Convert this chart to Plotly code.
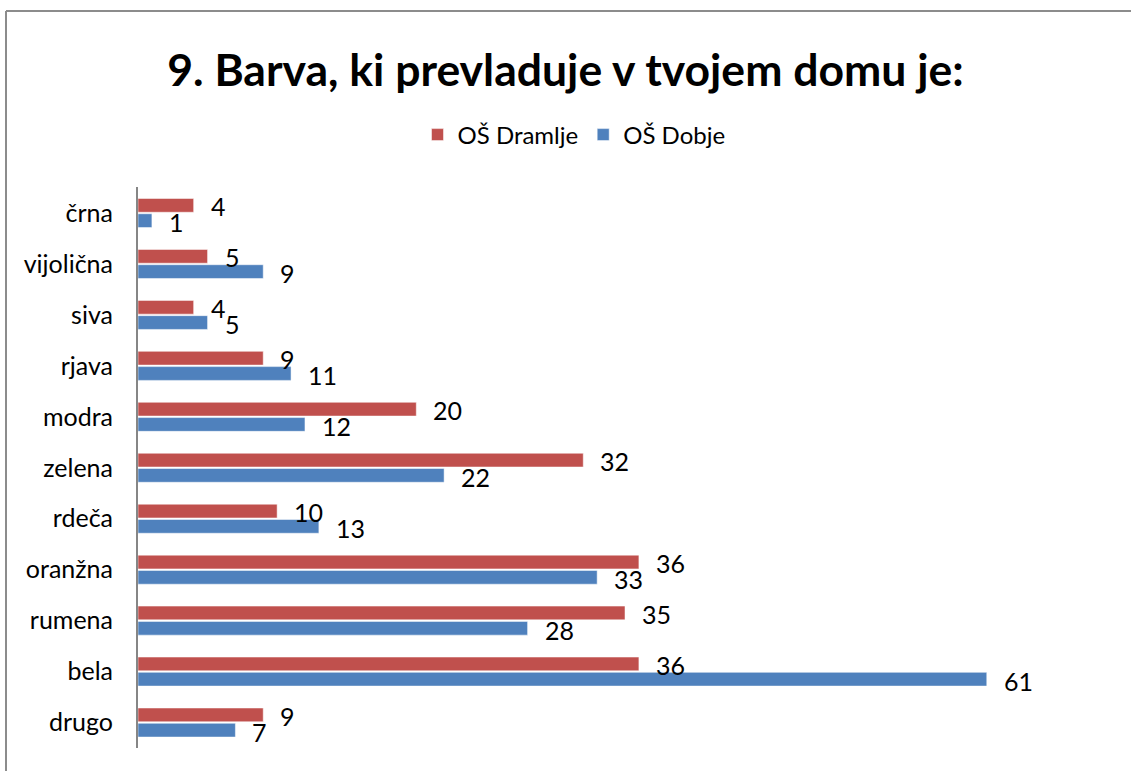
import plotly.graph_objects as go

categories = ["črna", "vijolična", "siva", "rjava", "modra", "zelena", "rdeča",
              "oranžna", "rumena", "bela", "drugo"]
dramlje = [4, 5, 4, 9, 20, 32, 10, 36, 35, 36, 9]
dobje = [1, 9, 5, 11, 12, 22, 13, 33, 28, 61, 7]
series_names = ["OŠ Dramlje", "OŠ Dobje"]
colors = ["#C0504D", "#4F81BD"]

W, H = 1131, 771
ML, MR, MT, MB = 138, 19, 187, 23
FONT = "Lato"

fig = go.Figure()
for name, vals, col in zip(series_names, [dramlje, dobje], colors):
    fig.add_trace(go.Bar(
        y=categories, x=vals, name=name, orientation="h",
        marker=dict(color=col, line=dict(color="white", width=0.5)),
        hoverinfo="x+y+name",
    ))

annotations = []
for vals, ys in [(dramlje, 7), (dobje, -9)]:
    for c, v in zip(categories, vals):
        annotations.append(dict(
            x=v, y=c, xref="x", yref="y", text=str(v), showarrow=False,
            xanchor="left", yanchor="middle", xshift=15, yshift=ys,
            font=dict(family=FONT, size=25, color="black"),
        ))

pw = W - ML - MR
ph = H - MT - MB
px = lambda p: (p - ML) / pw
py = lambda p: 1 - (p - MT) / ph

fig.update_layout(
    width=W, height=H,
    margin=dict(l=ML, r=MR, t=MT, b=MB, pad=0),
    paper_bgcolor="white", plot_bgcolor="white",
    barmode="group", bargap=0.4, bargroupgap=0.1,
    title=dict(text="<b>9. Barva, ki prevladuje v tvojem domu je:</b>",
               x=0.5, xanchor="center", y=1 - 70 / H, yanchor="middle",
               font=dict(family=FONT, size=44.5, color="black")),
    legend=dict(orientation="h", x=px(574), xanchor="center", y=1 - 135 / H,
                yref="container", yanchor="middle",
                font=dict(family=FONT, size=24, color="black"),
                itemwidth=30, traceorder="normal"),
    xaxis=dict(range=[0, 70], visible=False, showgrid=False, zeroline=False),
    yaxis=dict(autorange="reversed", showgrid=False, zeroline=False,
               showline=True, linecolor="#868686", linewidth=2,
               ticks="", tickfont=dict(family=FONT, size=25, color="black"),
               ticklabelstandoff=18),
    annotations=annotations,
    showlegend=True,
    font=dict(family=FONT),
)

# chart border (top and left edges)
fig.add_shape(type="line", xref="paper", yref="paper",
              x0=px(6), x1=px(W + 5), y0=py(11), y1=py(11),
              line=dict(color="#8c8c8c", width=2))
fig.add_shape(type="line", xref="paper", yref="paper",
              x0=px(6), x1=px(6), y0=py(11), y1=py(H + 5),
              line=dict(color="#8c8c8c", width=2))

fig.write_html("out.html", config={"displayModeBar": False})

# remove default body margin so the figure sits at the page origin
with open("out.html", encoding="utf-8") as f:
    html = f.read()
html = html.replace("<body>", '<body style="margin:0;padding:0;">', 1)
with open("out.html", "w", encoding="utf-8") as f:
    f.write(html)
